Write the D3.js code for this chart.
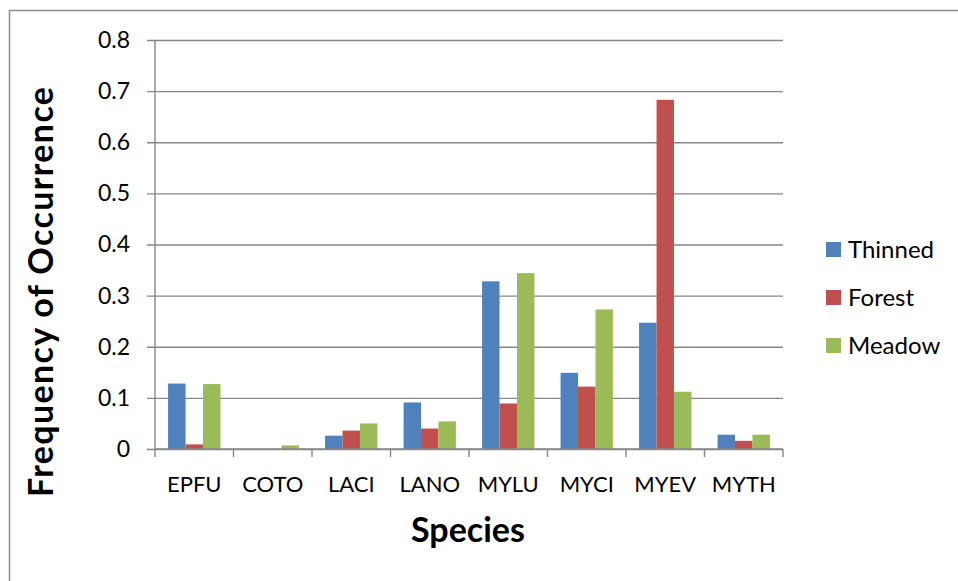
<!DOCTYPE html>
<html>
<head>
<meta charset="utf-8">
<script src="https://cdn.jsdelivr.net/npm/d3@7"></script>
<style>
  body { margin: 0; background: #fff; }
  svg text { font-family: Lato, "Open Sans", sans-serif; fill: #000; }
</style>
</head>
<body>
<div id="chart"></div>
<script>
var species = ["EPFU", "COTO", "LACI", "LANO", "MYLU", "MYCI", "MYEV", "MYTH"];
var seriesNames = ["Thinned", "Forest", "Meadow"];
var thinned = [0.128, 0, 0.026, 0.091, 0.328, 0.149, 0.247, 0.028];
var forest  = [0.009, 0, 0.036, 0.040, 0.089, 0.122, 0.683, 0.016];
var meadow  = [0.127, 0.007, 0.050, 0.054, 0.344, 0.273, 0.112, 0.028];
var yTicks = [0, 0.1, 0.2, 0.3, 0.4, 0.5, 0.6, 0.7, 0.8];
var colors = ["#4F81BD", "#C0504D", "#9BBB59"];

var width = 958, height = 581;
var plotLeft = 155, plotRight = 783, plotTop = 40, plotBottom = 449;
var gridColor = "#878787";

var svg = d3.select("#chart")
    .append("svg")
    .attr("width", width)
    .attr("height", height);

// outer chart border (runs off the page on the right and bottom)
svg.append("path")
    .attr("d", "M9.5," + (height + 5) + "V10.5H" + (width + 5))
    .attr("fill", "none")
    .attr("stroke", "#8c8c8c")
    .attr("stroke-width", 1.5);

var y = d3.scaleLinear().domain([0, 0.8]).range([plotBottom, plotTop]);
var x = d3.scaleBand().domain(species).range([plotLeft, plotRight]);
// excel style: 150% gap between groups
var x1 = d3.scaleBand().domain(seriesNames).range([0, x.bandwidth()])
    .paddingInner(0).paddingOuter(0.75);

var rows = species.map(function (s, i) {
    return { name: s, values: [thinned[i], forest[i], meadow[i]] };
});

// gridlines + y axis
var yAxis = d3.axisLeft(y)
    .tickValues(yTicks)
    .tickFormat(function (d) { return d === 0 ? "0" : d3.format(".1f")(d); })
    .tickSizeInner(-(plotRight - plotLeft))
    .tickSizeOuter(0)
    .tickPadding(25);

var gy = svg.append("g")
    .attr("transform", "translate(" + plotLeft + ",0)")
    .call(yAxis);
gy.select(".domain").remove();
gy.selectAll(".tick line")
    .attr("x1", -8)
    .attr("stroke", gridColor)
    .attr("stroke-width", 1.4);
gy.selectAll(".tick text")
    .attr("font-size", 23)
    .style("font-family", "Lato, sans-serif");

// y axis line
svg.append("line")
    .attr("x1", plotLeft).attr("x2", plotLeft)
    .attr("y1", plotTop).attr("y2", plotBottom)
    .attr("stroke", gridColor)
    .attr("stroke-width", 1.4);

// bars
var groups = svg.selectAll("g.grp")
    .data(rows).enter()
    .append("g")
    .attr("class", "grp")
    .attr("transform", function (d) { return "translate(" + x(d.name) + ",0)"; });

groups.selectAll("rect")
    .data(function (d) { return d.values.map(function (v, j) { return { s: seriesNames[j], v: v, c: colors[j] }; }); })
    .enter()
    .append("rect")
    .attr("x", function (d) { return x1(d.s); })
    .attr("y", function (d) { return y(d.v); })
    .attr("width", x1.bandwidth())
    .attr("height", function (d) { return plotBottom - y(d.v); })
    .attr("fill", function (d) { return d.c; });

// x axis line and ticks at category boundaries
svg.append("line")
    .attr("x1", plotLeft).attr("x2", plotRight)
    .attr("y1", plotBottom).attr("y2", plotBottom)
    .attr("stroke", gridColor)
    .attr("stroke-width", 1.4);

var bounds = species.map(function (s) { return x(s); }).concat([plotRight]);
svg.selectAll("line.xtick")
    .data(bounds).enter()
    .append("line")
    .attr("class", "xtick")
    .attr("x1", function (d) { return d; })
    .attr("x2", function (d) { return d; })
    .attr("y1", plotBottom)
    .attr("y2", plotBottom + 8)
    .attr("stroke", gridColor)
    .attr("stroke-width", 1.4);

svg.selectAll("text.cat")
    .data(species).enter()
    .append("text")
    .attr("class", "cat")
    .attr("x", function (d) { return x(d) + x.bandwidth() / 2; })
    .attr("y", 484)
    .attr("dy", "0.35em")
    .attr("text-anchor", "middle")
    .attr("font-size", 22)
    .text(function (d) { return d; });

// axis titles
svg.append("text")
    .attr("x", 468)
    .attr("y", 542)
    .attr("text-anchor", "middle")
    .attr("font-size", 34)
    .attr("font-weight", "bold")
    .text("Species");

svg.append("text")
    .attr("transform", "translate(53,292) rotate(-90)")
    .attr("text-anchor", "middle")
    .attr("font-size", 34)
    .attr("font-weight", "bold")
    .attr("textLength", 410)
    .attr("lengthAdjust", "spacing")
    .text("Frequency of Occurrence");

// legend
var legend = svg.selectAll("g.leg")
    .data(seriesNames).enter()
    .append("g")
    .attr("class", "leg")
    .attr("transform", function (d, i) { return "translate(826," + (250 + i * 48) + ")"; });

legend.append("rect")
    .attr("x", 0).attr("y", -8)
    .attr("width", 15).attr("height", 15)
    .attr("fill", function (d, i) { return colors[i]; });

legend.append("text")
    .attr("x", 22)
    .attr("dy", "0.35em")
    .attr("font-size", 24)
    .text(function (d) { return d; });
</script>
</body>
</html>
